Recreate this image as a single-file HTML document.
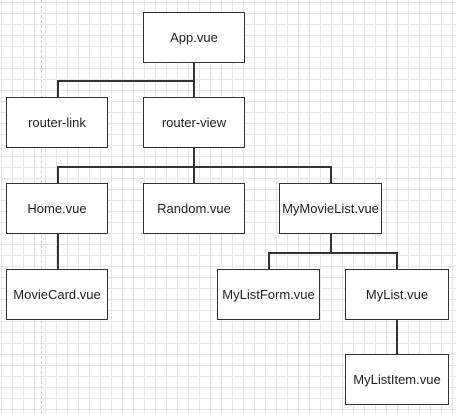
<!DOCTYPE html>
<html><head><style>
html,body{margin:0;padding:0}
body{width:456px;height:414px;overflow:hidden;background:#fff;
background-image:linear-gradient(#e6e6e6 1px,transparent 1px),linear-gradient(90deg,#e6e6e6 1px,transparent 1px);
background-size:11px 11px;background-position:1px 2px;position:relative;font-family:"Liberation Sans",Arial,sans-serif}
.b{position:absolute;box-sizing:border-box;border:1.5px solid #333;background:#fff;display:flex;align-items:center;justify-content:center;font-size:13px;color:#222}
.l{position:absolute;background:#333}
.h{height:1.5px}.v{width:1.5px}
</style></head><body>
<div style="position:absolute;left:41px;top:0;height:414px;border-left:1px dashed #ccc"></div>
<div class="l v" style="left:193px;top:63px;height:34px"></div>
<div class="l h" style="left:57px;top:80px;width:137px"></div>
<div class="l v" style="left:57px;top:80px;height:17px"></div>
<div class="l v" style="left:193px;top:148px;height:35px"></div>
<div class="l h" style="left:57px;top:166px;width:274px"></div>
<div class="l v" style="left:57px;top:166px;height:17px"></div>
<div class="l v" style="left:330px;top:166px;height:17px"></div>
<div class="l v" style="left:57px;top:234px;height:35px"></div>
<div class="l v" style="left:330px;top:234px;height:18px"></div>
<div class="l h" style="left:268px;top:252px;width:129px"></div>
<div class="l v" style="left:268px;top:252px;height:17px"></div>
<div class="l v" style="left:396px;top:252px;height:17px"></div>
<div class="l v" style="left:396px;top:319px;height:35px"></div>

<div class="b" style="left:143px;top:12px;width:102px;height:51px">App.vue</div>
<div class="b" style="left:6px;top:97px;width:102px;height:51px">router-link</div>
<div class="b" style="left:143px;top:97px;width:102px;height:51px">router-view</div>
<div class="b" style="left:6px;top:183px;width:102px;height:51px">Home.vue</div>
<div class="b" style="left:143px;top:183px;width:102px;height:51px">Random.vue</div>
<div class="b" style="left:279px;top:183px;width:103px;height:51px">MyMovieList.vue</div>
<div class="b" style="left:6px;top:269px;width:102px;height:51px">MovieCard.vue</div>
<div class="b" style="left:217px;top:269px;width:103px;height:51px">MyListForm.vue</div>
<div class="b" style="left:345px;top:269px;width:104px;height:51px">MyList.vue</div>
<div class="b" style="left:345px;top:354px;width:104px;height:51px">MyListItem.vue</div>
</body></html>
